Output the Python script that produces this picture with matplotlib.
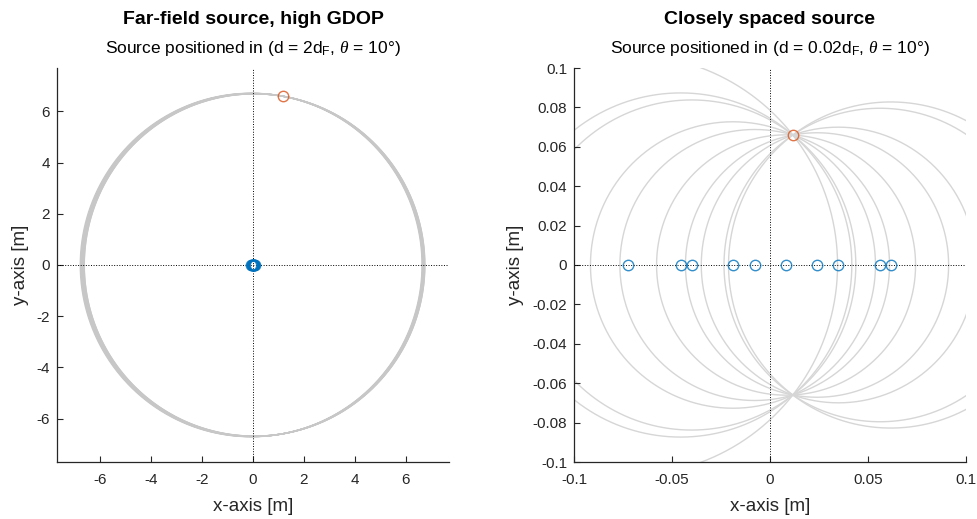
import numpy as np
import matplotlib
matplotlib.use("Agg")
import matplotlib.pyplot as plt

plt.rcParams['font.family'] = ['Liberation Sans', 'DejaVu Sans']
plt.rcParams['mathtext.fontset'] = 'custom'
plt.rcParams['mathtext.rm'] = 'Liberation Sans'
plt.rcParams['mathtext.it'] = 'Liberation Serif:italic'
plt.rcParams['axes.unicode_minus'] = False

# ---- data ----
sensor_x = [-0.0723, -0.0456, -0.0400, -0.0189, -0.0078, 0.0082, 0.0240, 0.0349, 0.0561, 0.0616]
sensor_y = [0.0] * len(sensor_x)
d_F = 3.35
dist_factors = [2.0, 0.02]
theta_deg = 10.0
titles = ["Far-field source, high GDOP", "Closely spaced source"]
subtitles = [r"Source positioned in (d = 2d$_{\mathrm{F}}$, $\theta$ = 10°)",
             r"Source positioned in (d = 0.02d$_{\mathrm{F}}$, $\theta$ = 10°)"]
left_ticks = [-6, -4, -2, 0, 2, 4, 6]
left_lim = 7.7
right_xticks = [-0.1, -0.05, 0, 0.05, 0.1]
right_xticklabels = ["-0.1", "-0.05", "0", "0.05", "0.1"]
right_yticks = [-0.1, -0.08, -0.06, -0.04, -0.02, 0, 0.02, 0.04, 0.06, 0.08, 0.1]
right_yticklabels = ["-0.1", "-0.08", "-0.06", "-0.04", "-0.02", "0", "0.02", "0.04", "0.06", "0.08", "0.1"]

blue = (0.0, 0.447, 0.741)
orange = (0.85, 0.325, 0.098)
dark = (0.15, 0.15, 0.15)

fig = plt.figure(figsize=(9.78, 5.19), dpi=100)
ax1 = fig.add_axes([57/978, 1-462/519, (449-57)/978, (462-68)/519])
ax2 = fig.add_axes([574/978, 1-462/519, (966-574)/978, (462-68)/519])

phi = np.linspace(0, 2*np.pi, 721)
ylabel_x = [-0.094, -0.15]
for k, ax in enumerate([ax1, ax2]):
    d = dist_factors[k] * d_F
    th = np.deg2rad(theta_deg)
    sx, sy = d*np.sin(th), d*np.cos(th)
    for xi, yi in zip(sensor_x, sensor_y):
        r = np.hypot(sx - xi, sy - yi)
        col = (0.78, 0.78, 0.78) if k == 0 else (0.84, 0.84, 0.84)
        ax.plot(xi + r*np.cos(phi), yi + r*np.sin(phi), color=col, lw=1.0, zorder=1)
    ax.axhline(0, color='k', ls=':', lw=0.7, zorder=2)
    ax.axvline(0, color='k', ls=':', lw=0.7, zorder=2)
    ax.plot(sensor_x, sensor_y, 'o', mfc='none', mec=blue, ms=7.5, mew=1.0, alpha=0.8, zorder=3)
    ax.plot([sx], [sy], 'o', mfc='none', mec=orange, ms=7.5, mew=1.0, alpha=0.8, zorder=3)
    for s in ['top', 'right']:
        ax.spines[s].set_visible(False)
    for s in ['left', 'bottom']:
        ax.spines[s].set_color(dark)
        ax.spines[s].set_linewidth(0.9)
    ax.tick_params(direction='in', length=4, width=0.8, labelsize=11,
                   colors=dark, labelcolor=dark)
    ax.tick_params(axis='x', pad=8)
    ax.tick_params(axis='y', pad=5)
    ax.set_xlabel("x-axis [m]", fontsize=13.5, color=dark)
    ax.set_ylabel("y-axis [m]", fontsize=13.5, color=dark)
    ax.xaxis.set_label_coords(0.5, -0.113)
    ax.yaxis.set_label_coords(ylabel_x[k], 0.5)
    ax.xaxis.label.set_va('center')
    ax.yaxis.label.set_va('center')
    ax.text(0.5, 1.122, titles[k], transform=ax.transAxes, ha='center',
            va='center', fontsize=14, fontweight='bold')
    ax.text(0.5, 1.05, subtitles[k], transform=ax.transAxes, ha='center',
            va='center', fontsize=12.5)

ax1.set_xlim(-left_lim, left_lim)
ax1.set_ylim(-left_lim, left_lim)
ax1.set_xticks(left_ticks)
ax1.set_yticks(left_ticks)

ax2.set_xlim(-0.1, 0.1)
ax2.set_ylim(-0.1, 0.1)
ax2.set_xticks(right_xticks)
ax2.set_xticklabels(right_xticklabels)
ax2.set_yticks(right_yticks)
ax2.set_yticklabels(right_yticklabels)

fig.savefig("out.png", dpi=100)
